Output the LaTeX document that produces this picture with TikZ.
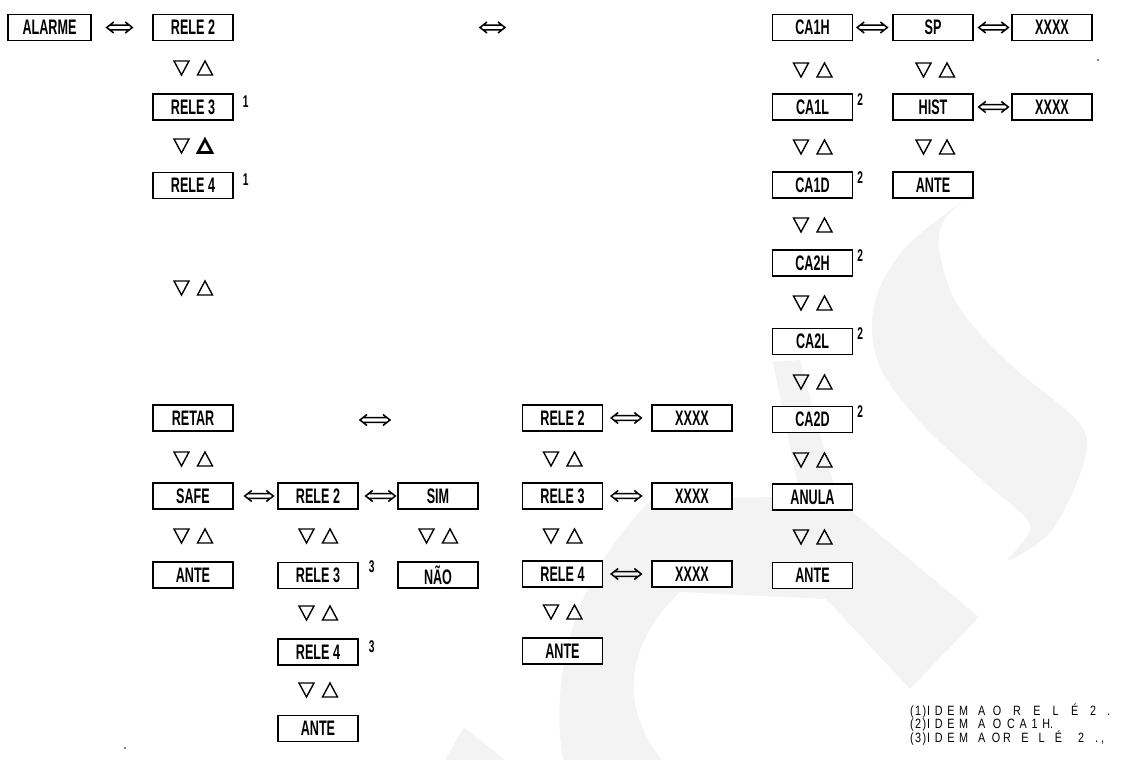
\documentclass[tikz,border=0pt]{standalone}
\usepackage{fontspec}
\newfontfamily\boxfont[FakeStretch=0.6]{Liberation Sans}
\newfontfamily\notefont[FakeStretch=0.8]{Liberation Sans}
\usetikzlibrary{calc}
\definecolor{wm}{RGB}{243,243,243}
\tikzset{
  updown/.pic={
    \draw[tri] (-19,-7) -- (-4,-7) -- (-11.5,7) -- cycle;
    \draw[tri] (4.5,7) -- (19.5,7) -- (12,-7) -- cycle;
  },
  updownb/.pic={
    \draw[tri] (-19,-7) -- (-4,-7) -- (-11.5,7) -- cycle;
    \draw[tri, line width=2.6pt] (5,6.5) -- (19,6.5) -- (12,-6.5) -- cycle;
  }
}
\begin{document}
\begin{tikzpicture}[x=1pt,y=-1pt,
  box/.style={draw, line width=1.4pt, fill=white, minimum width=80pt, minimum height=26pt,
    inner sep=0pt, font=\boxfont\bfseries\fontsize{21}{21}\selectfont},
  dbl/.style={line width=1.5pt, line cap=butt, line join=miter, to path={
    let \p1=(\tikztostart), \p2=(\tikztotarget) in
    (\x1+3pt,\y1+2.3pt) -- (\x2-3pt,\y1+2.3pt)
    (\x1+3pt,\y1-2.3pt) -- (\x2-3pt,\y1-2.3pt)
    (\x1+7pt,\y1+5.5pt) -- (\x1,\y1) -- (\x1+7pt,\y1-5.5pt)
    (\x2-7pt,\y1+5.5pt) -- (\x2,\y1) -- (\x2-7pt,\y1-5.5pt)}},
  tri/.style={line width=1.4pt, line join=miter},
  fn/.style={font=\boxfont\bfseries\fontsize{17}{17}\selectfont, anchor=north west, inner sep=0pt},
  note/.style={font=\notefont\fontsize{13.5}{13.5}\selectfont, anchor=base west, inner sep=0pt}
]
\useasboundingbox (0,0) rectangle (1122,760);
% watermark
\fill[wm] plot[smooth cycle, tension=0.55] coordinates {(979,189) (905,248) (874,306) (879,365) (921,423) (984,482) (1030,525) (1008,560) (1052,530) (1084,462) (1079,423) (1011,365) (958,306) (939,248) (947,216)};
\fill[wm] (773,362) -- (800,360) -- (838,500) -- (979,617) -- (910,689) -- (826,599) -- (680,592)
  .. controls (630,640) and (615,700) .. (662,760) -- (563,760)
  .. controls (550,680) and (570,580) .. (653,498) -- (800,497) -- cycle;
\fill[wm] (464,727) -- (505,760) -- (445,760) -- cycle;

% column A
\node[box, minimum width=83pt] (alarme) at (49.5,27.5) {ALARME};
\node[box] (a2) at (193,27.5) {RELE 2};
\node[box] (a3) at (193,107) {RELE 3};
\node[box] (a4) at (193,185.5) {RELE 4};
\node[box] (retar) at (193,418) {RETAR};
\node[box] (safe) at (193,496) {SAFE};
\node[box] (ante1) at (193,575) {ANTE};
% column B
\node[box] (b2) at (318,496) {RELE 2};
\node[box] (b3) at (318,575.5) {RELE 3};
\node[box] (b4) at (318,652) {RELE 4};
\node[box] (ante2) at (318,728.5) {ANTE};
% column C
\node[box] (sim) at (438,496) {SIM};
\node[box] (nao) at (438,575) {NÃO};
% column D
\node[box] (d2) at (562.5,418) {RELE 2};
\node[box] (d3) at (562.5,496) {RELE 3};
\node[box] (d4) at (562.5,574) {RELE 4};
\node[box] (ante3) at (562.5,651) {ANTE};
% column E
\node[box] (x2) at (692,418) {XXXX};
\node[box] (x3) at (692,496) {XXXX};
\node[box] (x4) at (692,574) {XXXX};
% column F
\node[box] (ca1h) at (812.5,27.5) {CA1H};
\node[box] (ca1l) at (812.5,107) {CA1L};
\node[box] (ca1d) at (812.5,185) {CA1D};
\node[box] (ca2h) at (812.5,263) {CA2H};
\node[box] (ca2l) at (812.5,341.5) {CA2L};
\node[box] (ca2d) at (812.5,419.5) {CA2D};
\node[box] (anula) at (812.5,497) {ANULA};
\node[box] (ante4) at (812.5,575.5) {ANTE};
% column G
\node[box] (sp) at (933,27.5) {SP};
\node[box] (hist) at (933,107) {HIST};
\node[box] (ante5) at (933,185) {ANTE};
% column H
\node[box] (xsp) at (1052,27.5) {XXXX};
\node[box] (xhist) at (1052,107) {XXXX};

% footnote marks
\node[fn] (m1) at ([xshift=9pt,yshift=-2pt]a3.north east) {1};
\node[fn] (m2) at ([xshift=9pt,yshift=-2pt]a4.north east) {1};
\node[fn] (m3) at ([xshift=4pt,yshift=0pt]ca1l.north east) {2};
\node[fn] (m4) at ([xshift=4pt,yshift=0pt]ca1d.north east) {2};
\node[fn] (m5) at ([xshift=4pt,yshift=0pt]ca2h.north east) {2};
\node[fn] (m6) at ([xshift=4pt,yshift=0pt]ca2l.north east) {2};
\node[fn] (m7) at ([xshift=4pt,yshift=0pt]ca2d.north east) {2};
\node[fn] (m8) at ([xshift=10pt,yshift=1pt]b3.north east) {3};
\node[fn] (m9) at ([xshift=10pt,yshift=-2pt]b4.north east) {3};

% double arrows
\coordinate (f1a) at (480,27.5);
\coordinate (f1b) at (505,27.5);
\coordinate (f2a) at (360,420);
\coordinate (f2b) at (390,420);
\draw[dbl] ([xshift=15pt]alarme.east) to ([xshift=-20pt]a2.west);
\draw[dbl] (f1a) to (f1b);
\draw[dbl] (f2a) to (f2b);
\draw[dbl] ([xshift=4pt]ca1h.east) to ([xshift=-5pt]sp.west);
\draw[dbl] ([xshift=5pt]sp.east) to ([xshift=-3pt]xsp.west);
\draw[dbl] ([xshift=5pt]hist.east) to ([xshift=-3pt]xhist.west);
\draw[dbl] ([xshift=11pt]safe.east) to ([xshift=-4pt]b2.west);
\draw[dbl] ([xshift=7pt]b2.east) to ([xshift=-2pt]sim.west);
\draw[dbl] ([xshift=8pt]d2.east) to ([xshift=-10pt]x2.west);
\draw[dbl] ([xshift=8pt]d3.east) to ([xshift=-10pt]x3.west);
\draw[dbl] ([xshift=8pt]d4.east) to ([xshift=-10pt]x4.west);

% up/down triangles
\pic at (193,68) {updown};
\pic at (193,146) {updownb};
\pic at (193,288) {updown};
\pic at (193,459) {updown};
\pic at (193,536) {updown};
\pic at (318,536) {updown};
\pic at (318,613) {updown};
\pic at (318,690) {updown};
\pic at (438,536) {updown};
\pic at (562.5,459) {updown};
\pic at (562.5,536) {updown};
\pic at (562.5,612) {updown};
\pic at (812.5,70) {updown};
\pic at (812.5,147) {updown};
\pic at (812.5,225) {updown};
\pic at (812.5,303) {updown};
\pic at (812.5,382) {updown};
\pic at (812.5,460) {updown};
\pic at (812.5,537) {updown};
\pic at (935,70) {updown};
\pic at (935,147) {updown};

% notes
\node[note] (notes) at (910,742) {\vbox{\baselineskip=13.5pt\lineskiplimit=-30pt\lineskip=0pt
\hbox{\makebox[16pt][s]{(\hfill1\hfill)}\hspace{1pt}\makebox[41pt][s]{I\hfill D\hfill E\hfill M}\hspace{10pt}\makebox[23pt][s]{A\hfill O}\hspace{12pt}\makebox[65pt][s]{R\hfill E\hfill L\hfill É}\hspace{12pt}2\hspace{11pt}.}
\hbox{\makebox[16pt][s]{(\hfill2\hfill)}\hspace{1pt}\makebox[41pt][s]{I\hfill D\hfill E\hfill M}\hspace{10pt}\makebox[23pt][s]{A\hfill O}\hspace{6pt}\makebox[46pt][s]{C\hfill A\hfill 1\hfill H.}}
\hbox{\makebox[16pt][s]{(\hfill3\hfill)}\hspace{1pt}\makebox[41pt][s]{I\hfill D\hfill E\hfill M}\hspace{10pt}\makebox[22pt][s]{A\hfill O}\hspace{3pt}\makebox[59pt][s]{R\hfill E\hfill L\hfill É}\hspace{16pt}2\hspace{11pt}.\hspace{3pt},}}};

% stray dots
\fill (1098,60) circle (0.8);
\fill (125,748) circle (0.8);
\end{tikzpicture}
\end{document}
